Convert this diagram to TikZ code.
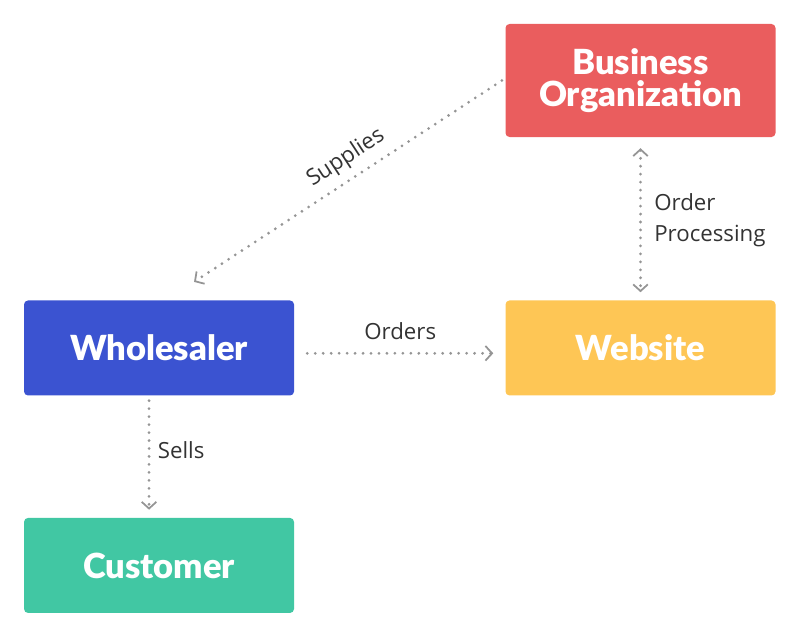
\documentclass[tikz,border=0pt]{standalone}
\usepackage{fontspec}
\setmainfont{Open Sans}
\newfontfamily\boxfont{Lato Black}
\usetikzlibrary{arrows.meta,positioning}
\definecolor{OrgRed}{HTML}{EA5D5E}
\definecolor{SellerBlue}{HTML}{3B53D1}
\definecolor{SiteYellow}{HTML}{FEC655}
\definecolor{BuyerTeal}{HTML}{41C7A3}
\definecolor{LinkGray}{HTML}{959595}
\definecolor{LabelGray}{HTML}{333333}

\begin{document}
\begin{tikzpicture}[
    party/.style={
      rounded corners=1.2mm,
      align=center,
      text=white,
      minimum width=8.1cm,
      minimum height=2.85cm,
      font=\boxfont\fontsize{29.5}{31}\selectfont
    },
    link/.style={
      LinkGray,
      line width=2.6pt,
      line cap=round,
      dash pattern=on 0pt off 6.8pt,
      >={Straight Barb[length=2mm,width=4.4mm,line width=1.5pt]},
      ->
    },
    tag/.style={
      text=LabelGray,
      font=\fontsize{19}{26}\selectfont
    }
  ]
    \useasboundingbox (0,0) rectangle (24,-19.17);
    \node[party,fill=OrgRed,minimum height=3.39cm] (org) at (19.215,-2.415)
      {Business\\[-0.12cm]Organization};
    \node[party,fill=SiteYellow,below=4.89cm of org] (site) {Website};
    \node[party,fill=SellerBlue,left=6.33cm of site] (seller) {Wholesaler};
    \node[party,fill=BuyerTeal,below=3.66cm of seller] (buyer) {Customer};
    \coordinate (drop) at ([xshift=1.05cm,yshift=0.55cm]seller.north);
    \draw[link] ([xshift=-0.1cm]org.west) -- (drop)
      node[tag,pos=0.47,sloped,above=0.12cm] (supplies) {Supplies};
    \draw[link,<->]
      ([yshift=-0.33cm]org.south) -- ([yshift=0.24cm]site.north)
      node[tag,midway,right=0.25cm,align=left] (processing) {Order\\Processing};
    \draw[link] ([xshift=0.39cm,yshift=-0.16cm]seller.east)
      -- ([xshift=-0.36cm,yshift=-0.16cm]site.west)
      node[tag,midway,above=0.25cm] (orders) {Orders};
    \draw[link] ([xshift=-0.3cm,yshift=-0.15cm]seller.south)
      -- ([xshift=-0.3cm,yshift=0.24cm]buyer.north)
      node[tag,midway,right=0.1cm,yshift=0.15cm] (sells) {Sells};
  \end{tikzpicture}
\end{document}
